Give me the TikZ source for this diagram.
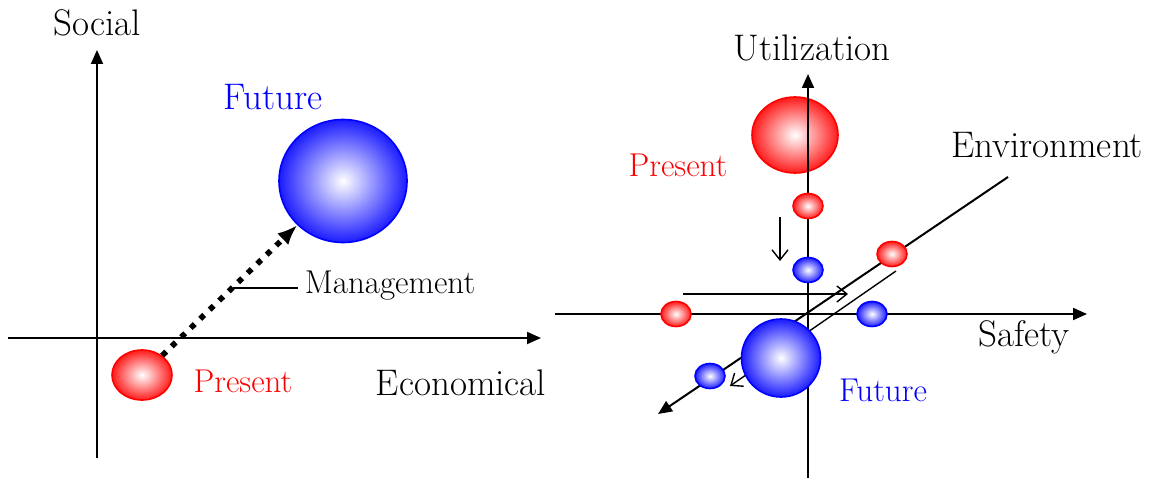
\documentclass[tikz,border=0pt]{standalone}
\usetikzlibrary{arrows.meta,shapes.geometric}

\pgfdeclareradialshading{redshade}{\pgfpointorigin}{color(0bp)=(white); color(28bp)=(red); color(50bp)=(red)}
\pgfdeclareradialshading{blueshade}{\pgfpointorigin}{color(0bp)=(white); color(28bp)=(blue); color(50bp)=(blue)}

\begin{document}
\begin{tikzpicture}[
    x=0.5pt, y=-0.5pt,
    axis/.style={line width=1pt, -{Triangle[length=7pt,width=6pt]}},
    thinarrow/.style={line width=0.7pt, -{Straight Barb[length=5pt,width=8pt]}},
    redball/.style={ellipse, draw=red, line width=0.8pt, shading=redshade, inner sep=0pt},
    blueball/.style={ellipse, draw=blue, line width=0.8pt, shading=blueshade, inner sep=0pt},
    lbl/.style={font=\fontsize{18.5}{22}\selectfont},
    smalllbl/.style={font=\fontsize{16.5}{20}\selectfont}
]
\useasboundingbox (0,0) rectangle (1159,480);

% left: economical / social
\coordinate (yl0) at (97,458);
\coordinate (yl1) at (97,50);
\coordinate (xl0) at (8,338);
\coordinate (xl1) at (541,338);
\draw[axis] (yl0) -- (yl1);
\draw[axis] (xl0) -- (xl1);
\node[lbl] (social) at (97,23) {Social};
\node[lbl] (econ) at (461,383) {Economical};

\node[redball, minimum width=30pt, minimum height=25pt] (pres) at (142,375) {};
\node[blueball, minimum width=64pt, minimum height=61.5pt] (fut) at (343,181) {};
\node[lbl, text=blue] (futlbl) at (273,97) {Future};
\node[smalllbl, text=red] (preslbl) at (243,381) {Present};
\draw[line width=2.8pt, dash pattern=on 2.8pt off 3.8pt, -{Latex[length=10pt,width=8pt]}] (pres) -- (fut);

\coordinate (mg) at (233,288);
\node[smalllbl] (mgmt) at (390,286) {Management};
\draw[line width=0.7pt] (mg) -- (mg -| mgmt.west);

% right: utilization / safety / environment
\node[redball, minimum width=43pt, minimum height=38pt] (bigpres) at (795,135) {};
\coordinate (yr0) at (808,478);
\coordinate (yr1) at (808,74);
\coordinate (xr0) at (555,314);
\coordinate (xr1) at (1087,314);
\coordinate (zr0) at (1008,177);
\coordinate (zr1) at (658,414);
\draw[axis] (yr0) -- (yr1);
\draw[axis] (xr0) -- (xr1);
\draw[axis] (zr0) -- (zr1);

\coordinate (a1) at (780,217);
\coordinate (a2) at (780,261);
\coordinate (b1) at (683,294);
\coordinate (b2) at (848,294);
\coordinate (c1) at (896,271);
\coordinate (c2) at (730,386);
\draw[thinarrow] (a1) -- (a2);
\draw[thinarrow] (b1) -- (b2);
\draw[thinarrow] (c1) -- (c2);

\node[redball, minimum width=15pt, minimum height=12.5pt] (ru) at (808,206) {};
\node[blueball, minimum width=15pt, minimum height=12.5pt] (bu) at (808,270) {};
\node[redball, minimum width=15pt, minimum height=12.5pt] (rs) at (676,314) {};
\node[blueball, minimum width=15pt, minimum height=12.5pt] (bs) at (872,314) {};
\node[redball, minimum width=15pt, minimum height=12.5pt] (re) at (892,254) {};
\node[blueball, minimum width=15pt, minimum height=12.5pt] (be) at (710,376) {};
\node[blueball, minimum width=39.5pt, minimum height=39pt] (bigfut) at (781,358) {};

\node[lbl] (util) at (812,48) {Utilization};
\node[lbl] (env) at (1047,145) {Environment};
\node[lbl] (safety) at (1024,337) {Safety};
\node[smalllbl, text=blue] (futlbl2) at (883,390) {Future};
\node[smalllbl, text=red] (preslbl2) at (678,165) {Present};
\end{tikzpicture}
\end{document}
